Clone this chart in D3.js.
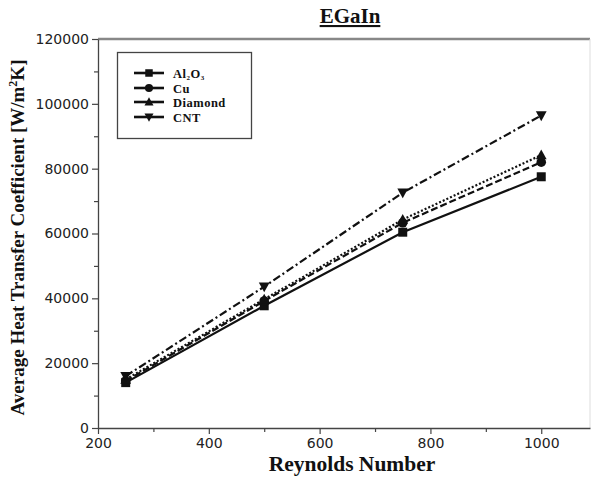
<!DOCTYPE html>
<html>
<head>
<meta charset="utf-8">
<script src="https://cdn.jsdelivr.net/npm/d3@7"></script>
<style>
  body { margin: 0; background: #fff; }
  svg { display: block; }
</style>
</head>
<body>
<svg id="chart" width="592" height="477"></svg>
<script>
// Reynolds numbers and average heat transfer coefficient per nanoparticle (EGaIn base)
const reynolds = [250, 500, 750, 1000];
const al2o3 = [14000, 37700, 60400, 77500];
const cu = [14500, 39200, 63300, 82000];
const diamond = [15000, 39700, 64300, 84200];
const cnt = [16000, 43600, 72600, 96400];
const xTicks = [200, 400, 600, 800, 1000];
const yTicks = [0, 20000, 40000, 60000, 80000, 100000, 120000];

const series = [
  { name: "Al2O3", values: al2o3, dash: null, marker: "square" },
  { name: "Cu", values: cu, dash: "7,3", marker: "circle" },
  { name: "Diamond", values: diamond, dash: "2,2", marker: "triangleUp" },
  { name: "CNT", values: cnt, dash: "8,3,2,3", marker: "triangleDown" }
];

const svg = d3.select("#chart");
const m = { left: 98, right: 590, top: 39, bottom: 428 };

const x = d3.scaleLinear().domain([200, 1088]).range([m.left, m.right]);
const y = d3.scaleLinear().domain([0, 120000]).range([m.bottom, m.top]);

const serif = "'Liberation Serif', 'Times New Roman', serif";
const tickFont = "'DejaVu Sans', Verdana, sans-serif";

// frame: top and right borders in grey
svg.append("line").attr("x1", m.left).attr("x2", m.right)
  .attr("y1", m.top).attr("y2", m.top)
  .attr("stroke", "#888").attr("stroke-width", 2.5);
svg.append("line").attr("x1", m.right).attr("x2", m.right)
  .attr("y1", m.top).attr("y2", m.bottom)
  .attr("stroke", "#ddd").attr("stroke-width", 1);

// x axis
const xAxis = svg.append("g").attr("transform", `translate(0,${m.bottom})`)
  .call(d3.axisBottom(x).tickValues(xTicks).tickFormat(d3.format("d")).tickSize(6).tickSizeOuter(0));
svg.append("g").attr("transform", `translate(0,${m.bottom})`)
  .call(d3.axisBottom(x).tickValues(d3.range(300, 1100, 200)).tickFormat("").tickSize(4).tickSizeOuter(0))
  .select(".domain").remove();

// y axis
const yAxis = svg.append("g").attr("transform", `translate(${m.left},0)`)
  .call(d3.axisLeft(y).tickValues(yTicks).tickFormat(d3.format("d")).tickSize(6).tickSizeOuter(0));
svg.append("g").attr("transform", `translate(${m.left},0)`)
  .call(d3.axisLeft(y).tickValues(d3.range(10000, 120000, 20000)).tickFormat("").tickSize(4).tickSizeOuter(0))
  .select(".domain").remove();

svg.selectAll(".domain").attr("stroke", "#444").attr("stroke-width", 1.3);
svg.selectAll(".tick line").attr("stroke", "#444").attr("stroke-width", 1.2);
xAxis.selectAll("text").attr("font-family", tickFont).attr("font-size", 14).attr("fill", "#222").attr("dy", "0.75em");
yAxis.selectAll("text").attr("font-family", tickFont).attr("font-size", 14).attr("fill", "#222");

// series lines
const line = d3.line().x((d, i) => x(reynolds[i])).y(d => y(d));

function drawMarker(g, type, cx, cy, s) {
  if (type === "square") {
    g.append("rect").attr("x", cx - s / 2).attr("y", cy - s / 2).attr("width", s).attr("height", s).attr("fill", "#111");
  } else if (type === "circle") {
    g.append("circle").attr("cx", cx).attr("cy", cy).attr("r", s / 2 + 0.3).attr("fill", "#111");
  } else if (type === "triangleUp") {
    const h = s * 1.05;
    g.append("path").attr("d", `M${cx},${cy - h * 0.6}L${cx + s * 0.6},${cy + h * 0.45}L${cx - s * 0.6},${cy + h * 0.45}Z`).attr("fill", "#111");
  } else {
    const h = s * 1.05;
    g.append("path").attr("d", `M${cx},${cy + h * 0.6}L${cx + s * 0.6},${cy - h * 0.45}L${cx - s * 0.6},${cy - h * 0.45}Z`).attr("fill", "#111");
  }
}

series.forEach(s => {
  svg.append("path").datum(s.values)
    .attr("d", line).attr("fill", "none").attr("stroke", "#111")
    .attr("stroke-width", 2.2).attr("stroke-dasharray", s.dash);
});
series.forEach(s => {
  const g = svg.append("g");
  s.values.forEach((v, i) => drawMarker(g, s.marker, x(reynolds[i]), y(v), 9));
});

// legend
const lg = svg.append("g");
lg.append("rect").attr("x", 117.5).attr("y", 52.5).attr("width", 134).attr("height", 86)
  .attr("fill", "#fff").attr("stroke", "#444").attr("stroke-width", 1.3);
const legendY = [73, 88, 102, 117];
series.forEach((s, i) => {
  const ly = legendY[i];
  lg.append("line").attr("x1", 134).attr("x2", 164).attr("y1", ly).attr("y2", ly)
    .attr("stroke", "#111").attr("stroke-width", 2.6);
  drawMarker(lg, s.marker, 149, ly, 7.5);
  const t = lg.append("text").attr("x", 173).attr("y", ly + 4.5)
    .attr("font-family", serif)
    .attr("font-weight", "bold").attr("font-size", 12.5).attr("letter-spacing", 0.5).attr("fill", "#111");
  if (s.name === "Al2O3") {
    t.append("tspan").text("Al");
    t.append("tspan").attr("font-size", 7).attr("dy", 2).text("2");
    t.append("tspan").attr("dy", -2).text("O");
    t.append("tspan").attr("font-size", 7).attr("dy", 2).text("3");
  } else {
    t.text(s.name);
  }
});

// title
svg.append("text").attr("x", 350).attr("y", 23).attr("text-anchor", "middle")
  .attr("font-family", serif)
  .attr("font-weight", "bold").attr("font-size", 21).attr("fill", "#111")
  .attr("text-decoration", "underline").text("EGaIn");

// axis titles
svg.append("text").attr("x", 352).attr("y", 471).attr("text-anchor", "middle")
  .attr("font-family", serif)
  .attr("font-weight", "bold").attr("font-size", 21.5).attr("fill", "#111")
  .text("Reynolds Number");

const yl = svg.append("text")
  .attr("transform", `translate(24,${(m.top + m.bottom) / 2 + 4}) rotate(-90)`)
  .attr("text-anchor", "middle")
  .attr("font-family", serif)
  .attr("font-weight", "bold").attr("font-size", 19).attr("fill", "#111");
yl.append("tspan").text("Average Heat Transfer Coefficient [W/m");
yl.append("tspan").attr("font-size", 12).attr("dy", -7).text("2");
yl.append("tspan").attr("dy", 7).text("K]");
</script>
</body>
</html>
